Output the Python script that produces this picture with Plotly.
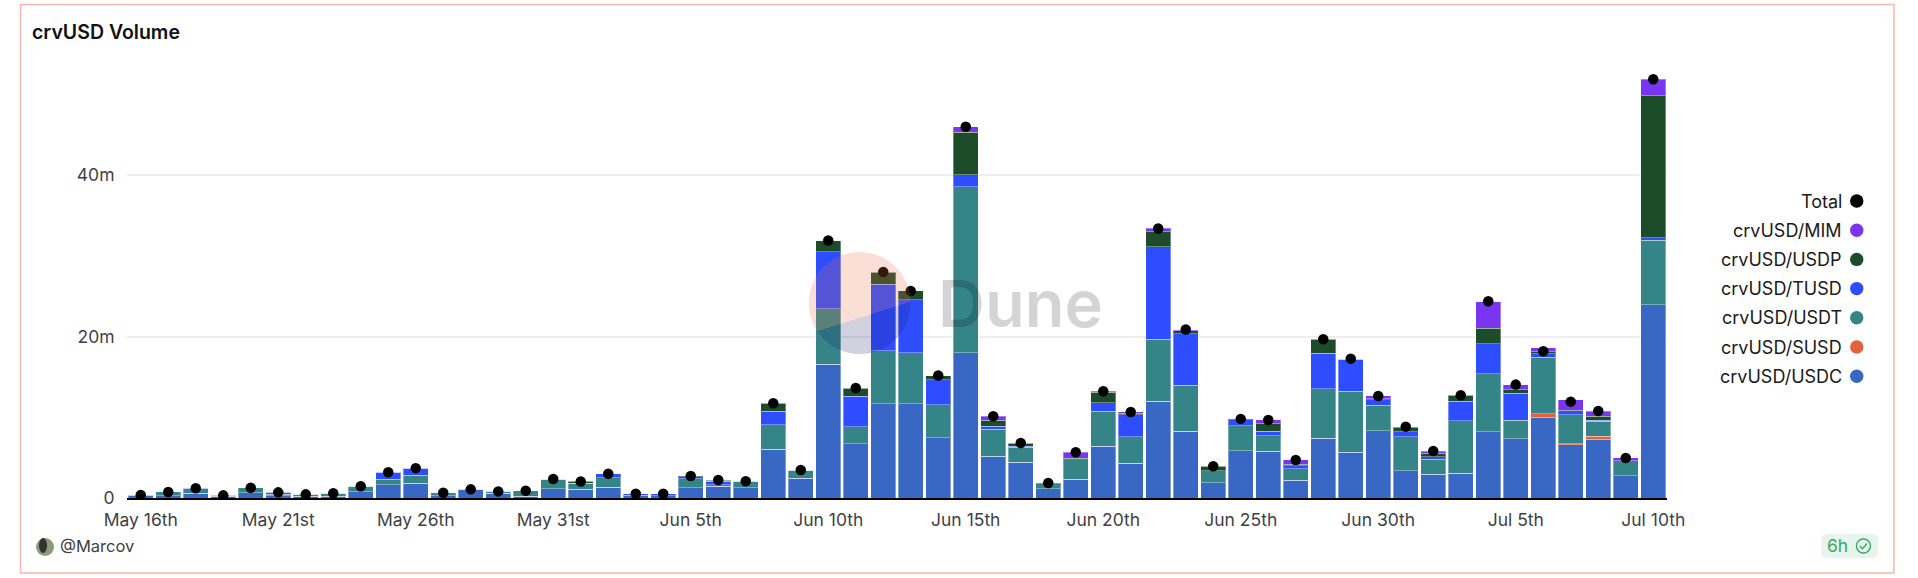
import numpy as np
import plotly.graph_objects as go

W, H = 1918, 578
PL, PR, PT, PB = 127.0, 1667.5, 50.0, 498.0

dates = (
    ["May %d" % d for d in range(16, 32)]
    + ["Jun %d" % d for d in range(1, 31)]
    + ["Jul %d" % d for d in range(1, 11)]
)
tick_vals = ["May 16", "May 21", "May 26", "May 31", "Jun 5", "Jun 10", "Jun 15", "Jun 20",
             "Jun 25", "Jun 30", "Jul 5", "Jul 10"]
tick_text = ["May 16th", "May 21st", "May 26th", "May 31st", "Jun 5th", "Jun 10th", "Jun 15th",
             "Jun 20th", "Jun 25th", "Jun 30th", "Jul 5th", "Jul 10th"]

usdc = [0.25, 0.3, 0.58, 0.2, 0.66, 0.3, 0.2, 0.2, 0.8, 1.65, 1.8, 0.3, 1.0, 0.58, 0.2, 1.15,
        1.1, 1.36, 0.25, 0.3, 1.24, 1.45, 1.24, 6.03, 2.44, 16.6, 6.7, 11.65, 11.65, 7.44, 17.98,
        5.2, 4.46, 1.12, 2.31, 6.4, 4.3, 11.98, 8.26, 1.9, 5.83, 5.79, 2.19, 7.4, 5.66, 8.35,
        3.39, 2.93, 3.06, 8.22, 7.36, 10.0, 6.57, 7.27, 2.73, 23.97]
susd = [0] * 51 + [0.45, 0.17, 0.37, 0, 0]
usdt = [0.05, 0.45, 0.55, 0.05, 0.6, 0.15, 0.25, 0.38, 0.65, 0.66, 1.0, 0.36, 0.07, 0.24, 0.7, 1.2,
        0.7, 1.12, 0.1, 0, 1.12, 0.2, 0.83, 3.02, 1.03, 6.83, 2.1, 6.6, 6.36, 4.09, 20.58,
        3.35, 1.82, 0.62, 2.44, 4.34, 3.3, 7.69, 5.7, 1.45, 3.1, 1.9, 1.45, 6.16, 7.56, 3.14,
        4.2, 1.86, 6.49, 7.19, 2.27, 6.98, 3.55, 1.9, 1.86, 7.98]
tusd = [0.07, 0, 0.05, 0.08, 0.02, 0.25, 0, 0, 0, 0.9, 0.9, 0, 0, 0, 0, 0,
        0.05, 0.52, 0.18, 0.23, 0.3, 0.41, 0, 1.69, 0, 7.07, 3.8, 8.26, 6.53, 3.14, 1.49,
        0.37, 0.12, 0.12, 0, 1.07, 2.69, 11.45, 6.4, 0, 0.74, 0.58, 0.37, 4.38, 3.97, 0.66,
        0.62, 0.33, 2.44, 3.68, 3.35, 0.45, 0.54, 0.12, 0, 0.33]
usdp = [0, 0, 0, 0, 0, 0, 0, 0, 0, 0, 0, 0, 0, 0, 0, 0,
        0.2, 0, 0, 0, 0.07, 0.17, 0, 1.0, 0, 1.4, 1.03, 1.49, 1.12, 0.5, 5.29,
        0.74, 0.41, 0, 0.17, 1.32, 0.2, 1.9, 0.37, 0.58, 0.12, 0.91, 0.17, 1.74, 0, 0.17,
        0.5, 0.45, 0.74, 1.94, 0.41, 0.25, 0.05, 0.5, 0, 17.56]
mim = [0] * 30 + [0.66, 0.45, 0, 0, 0.74, 0.08, 0.17, 0.41, 0.12, 0, 0, 0.5, 0.54, 0, 0.08, 0.33,
                  0.12, 0.25, 0, 3.31, 0.66, 0.5, 1.28, 0.62, 0.37, 2.07]
total = [0.37, 0.75, 1.2, 0.33, 1.28, 0.7, 0.45, 0.58, 1.45, 3.2, 3.7, 0.66, 1.07, 0.82, 0.9, 2.35,
         2.05, 3.0, 0.53, 0.53, 2.73, 2.23, 2.07, 11.74, 3.47, 31.9, 13.64, 28.0, 25.66, 15.17, 46.0,
         10.12, 6.82, 1.86, 5.66, 13.22, 10.66, 33.4, 20.87, 3.93, 9.8, 9.67, 4.71, 19.67, 17.27, 12.64,
         8.84, 5.83, 12.73, 24.38, 14.05, 18.18, 11.94, 10.79, 4.96, 51.9]

names = ["crvUSD/USDC", "crvUSD/SUSD", "crvUSD/USDT", "crvUSD/TUSD", "crvUSD/USDP", "crvUSD/MIM"]
series = [usdc, susd, usdt, tusd, usdp, mim]
colors = ["#3868c3", "#e2623c", "#348488", "#2e4dff", "#1d4c2b", "#7a35f0"]

FONT = "Inter"
TXT = "#3f3f46"


def X(p):
    return (p - PL) / (PR - PL)


def Y(p):
    return (PB - p) / (PB - PT)


fig = go.Figure()
for n, s, c in zip(names, series, colors):
    fig.add_bar(x=dates, y=s, name=n,
                marker=dict(color=c, line=dict(color="rgba(255,255,255,0.35)", width=1)))
fig.add_scatter(x=dates, y=total, name="Total", mode="markers",
                marker=dict(color="#000000", size=10.5))

shapes = []
annots = []


def rel(kind, **kw):
    shapes.append(dict(type=kind, xref="paper", yref="paper", **kw))


def poly(pts, **kw):
    d = "M " + " L ".join("%.5f %.5f" % (X(a), Y(b)) for a, b in pts) + " Z"
    shapes.append(dict(type="path", path=d, xref="paper", yref="paper", **kw))


def text(s, x, y, size, color=TXT, anchor="left", weight=None):
    f = dict(family=FONT, size=size, color=color)
    if weight:
        f["weight"] = weight
    annots.append(dict(text=s, x=X(x), y=Y(y), xref="paper", yref="paper", xanchor=anchor,
                       yanchor="middle", showarrow=False, font=f, align=anchor, borderpad=0, borderwidth=0))


# card frame
rel("rect", x0=X(20.5), x1=X(1894.5), y0=Y(4.5), y1=Y(573), line=dict(color="#f6b6ac", width=1.5),
    layer="below")

# watermark
cx, cy, r = 860.0, 303.0, 51.0
a0 = np.arctan2(331.7 - cy, 816.7 - cx)
a1 = np.arctan2(301.7 - cy, 911.0 - cx)
top_angles = np.linspace(a0, a0 + ((a1 - a0) % (2 * np.pi)), 60)
low_angles = np.linspace(a1, a1 + ((a0 - a1) % (2 * np.pi)), 60)
poly([(cx + r * np.cos(t), cy + r * np.sin(t)) for t in top_angles],
     fillcolor="rgba(233,110,70,0.22)", line=dict(width=0), layer="above")
poly([(cx + r * np.cos(t), cy + r * np.sin(t)) for t in low_angles],
     fillcolor="rgba(25,25,100,0.2)", line=dict(width=0), layer="above")
text("Dune", 938, 303, 65, color="rgba(0,0,0,0.17)", weight=600)

# title, author
text("crvUSD Volume", 32, 32, 19.5, color="#111111", weight=600)
rel("circle", x0=X(36), x1=X(54), y0=Y(538), y1=Y(556), fillcolor="#8a9a7a", line=dict(width=0))
rel("circle", x0=X(39), x1=X(47), y0=Y(538), y1=Y(553), fillcolor="#2f3430", line=dict(width=0))
text("@Marcov", 60, 546, 16.5)

# legend drawn text first, dot on the right
leg_labels = ["Total"] + names[::-1]
leg_colors = ["#000000"] + colors[::-1]
for i, (s, c) in enumerate(zip(leg_labels, leg_colors)):
    yy = 201 + 29.2 * i
    text(s, 1843, yy, 18, color="#1a1a1a", anchor="right")
    rel("circle", x0=X(1850.6), x1=X(1864), y0=Y(yy - 6.7), y1=Y(yy + 6.7), fillcolor=c,
        line=dict(width=0))

# freshness badge
x0, x1, y0, y1, rr = 1822.0, 1878.7, 534.0, 558.0, 6.0
shapes.append(dict(type="path", xref="paper", yref="paper", fillcolor="#e6f5ec", line=dict(width=0),
                   path="M %f %f L %f %f Q %f %f %f %f L %f %f Q %f %f %f %f L %f %f Q %f %f %f %f L %f %f Q %f %f %f %f Z" % (
                       X(x0 + rr), Y(y0), X(x1 - rr), Y(y0), X(x1), Y(y0), X(x1), Y(y0 + rr),
                       X(x1), Y(y1 - rr), X(x1), Y(y1), X(x1 - rr), Y(y1), X(x0 + rr), Y(y1),
                       X(x0), Y(y1), X(x0), Y(y1 - rr), X(x0), Y(y0 + rr), X(x0), Y(y0), X(x0 + rr), Y(y0))))
text("6h", 1828, 545.5, 17.5, color="#3aa768")
rel("circle", x0=X(1857), x1=X(1871), y0=Y(539), y1=Y(553), line=dict(color="#3aa768", width=1.4))
shapes.append(dict(type="path", xref="paper", yref="paper", line=dict(color="#3aa768", width=1.4),
                   path="M %f %f L %f %f L %f %f" % (X(1860.5), Y(546), X(1863), Y(548.8), X(1867.5), Y(543.5))))

fig.update_layout(
    width=W, height=H, autosize=False, template=None, showlegend=False, barmode="stack", bargap=0.09,
    paper_bgcolor="#ffffff", plot_bgcolor="#ffffff",
    margin=dict(l=PL, r=W - PR, t=PT, b=H - PB, pad=0),
    font=dict(family=FONT, size=17.5, color=TXT),
    shapes=shapes, annotations=annots,
    xaxis=dict(type="category", categoryorder="array", categoryarray=dates, range=[-0.5, 55.5],
               tickmode="array", tickvals=tick_vals, ticktext=tick_text, showgrid=False,
               showline=True, linecolor="#000000", linewidth=2, ticks="outside", ticklen=5,
               tickcolor="rgba(0,0,0,0)", zeroline=False),
    yaxis=dict(range=[0, (PB - PT) / 8.07], tickmode="array", tickvals=[0, 20, 40],
               ticktext=["0", "20m", "40m"], gridcolor="#eeeeee", gridwidth=1.5, showline=False,
               zeroline=False, ticks="outside", ticklen=8, tickcolor="rgba(0,0,0,0)"),
)

fig.write_html("out.html", config=dict(displayModeBar=False),
               post_script="document.body.style.margin='0';document.body.style.overflow='hidden';")
